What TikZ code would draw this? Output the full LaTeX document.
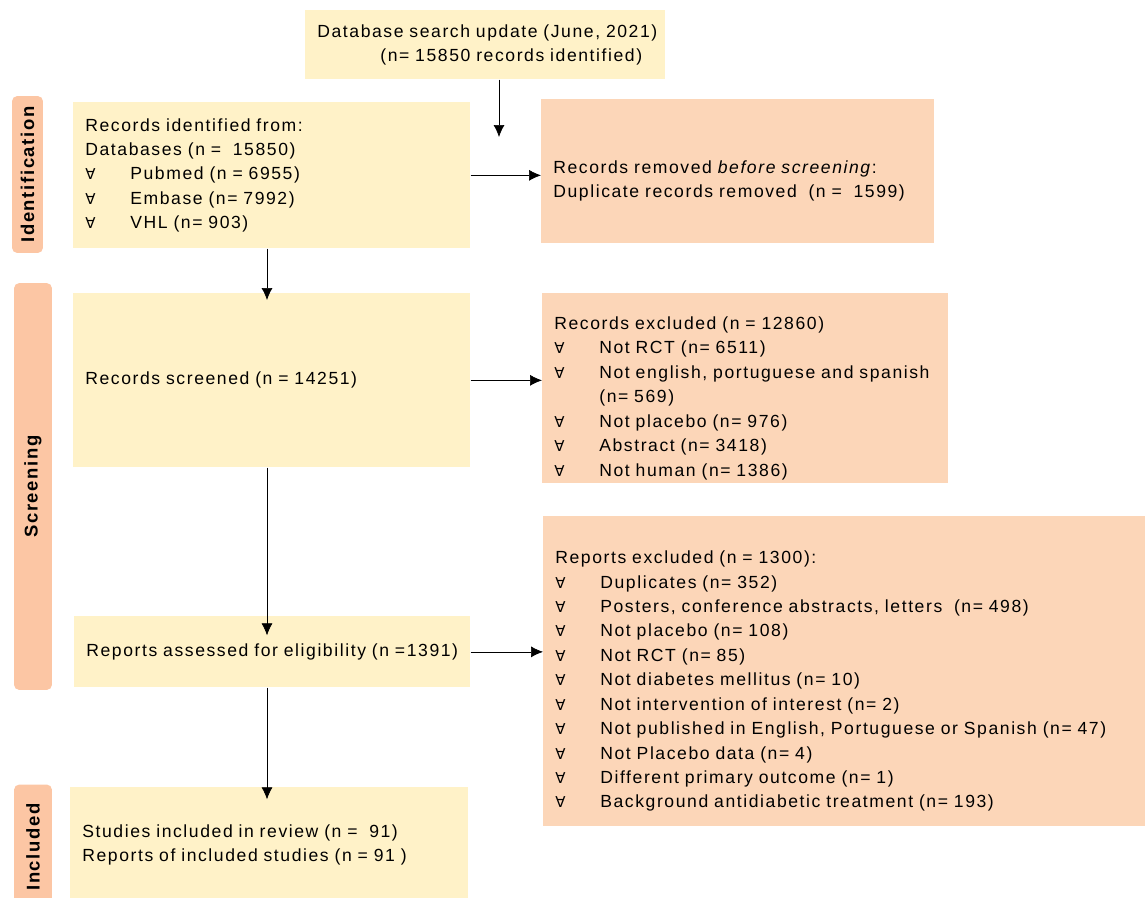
\documentclass[tikz,border=0pt]{standalone}
\usepackage{fontspec}
\setmainfont{Liberation Sans}[LetterSpace=9]
\newfontfamily\symfont{DejaVu Sans}
\usepackage{tikz}
\usetikzlibrary{positioning,arrows.meta}
\definecolor{boxyellow}{HTML}{FFF2C8}
\definecolor{boxpeach}{HTML}{FCD6B8}
\definecolor{phasepeach}{HTML}{FCC6A4}
\newcommand{\fa}{\makebox[0.9cm][l]{\symfont\fontsize{8.5}{10}\selectfont ∀}}
\newcommand{\pushdown}{\rule{0pt}{0.65cm}}
\tikzset{yellowbox/.style={fill=boxyellow, anchor=north west, align=left, inner xsep=0.24cm, inner ysep=0pt, font=\fontsize{10}{13.9}\selectfont},
peachbox/.style={yellowbox, fill=boxpeach, execute at begin node=\pushdown},
phasenode/.style={fill=phasepeach, rounded corners=3pt, rotate=90, inner sep=0pt, font=\fontsize{10.5}{12}\selectfont\bfseries},}

\begin{document}
\begin{tikzpicture}[x=0.02cm, y=-0.02cm, >={Latex[length=2.4mm,width=2.2mm]}]
\useasboundingbox (0,0) rectangle (1145,897);
\node [yellowbox, text width=6.72cm, minimum height=1.38cm] (top) at (305,10) {\mbox{Database search update (June, 2021)}\\ \hspace*{1.26cm}(n= 15850 records identified)};
\node [phasenode, minimum width=3.14cm, minimum height=0.62cm] (ident) at (27.5,174.5) {Identification};
\node [phasenode, minimum width=8.14cm, minimum height=0.76cm] (screen) at (33,486.5) {Screening};
\node [phasenode, minimum width=2.5cm, minimum height=0.76cm] (incl) at (33,847) {Included};
\node [yellowbox, text width=7.46cm, minimum height=2.92cm] (recid) at (73,102) {Records identified from:\\Databases (n = \ 15850)\\\fa Pubmed (n = 6955)\\\fa Embase (n= 7992)\\\fa VHL (n= 903)};
\node [peachbox, text width=7.38cm, minimum height=2.88cm] (removed) at (541,99) {Records removed \emph{before screening}:\\Duplicate records removed \ (n = \ 1599)};
\node [yellowbox, text width=7.46cm, minimum height=3.48cm] (screened) at (73,293) {Records screened (n = 14251)};
\node [peachbox, text width=7.64cm, minimum height=3.8cm] (recexcl) at (542,293) {Records excluded (n = 12860)\\\fa Not RCT (n= 6511)\\\fa Not english, portuguese and spanish\\\hspace*{0.9cm}(n= 569)\\\fa Not placebo (n= 976)\\\fa Abstract (n= 3418)\\\fa Not human (n= 1386)};
\node [yellowbox, text width=7.44cm, minimum height=1.42cm] (assessed) at (74,616) {Reports assessed for eligibility (n =1391)};
\node [peachbox, text width=11.6cm, minimum height=6.2cm] (repexcl) at (543,516) {Reports excluded (n = 1300):\\\fa Duplicates (n= 352)\\\fa Posters, conference abstracts, letters \ (n= 498)\\\fa Not placebo (n= 108)\\\fa Not RCT (n= 85)\\\fa Not diabetes mellitus (n= 10)\\\fa Not intervention of interest (n= 2)\\\fa Not published in English, Portuguese or Spanish (n= 47)\\\fa Not Placebo data (n= 4)\\\fa Different primary outcome (n= 1)\\\fa Background antidiabetic treatment (n= 193)};
\node [yellowbox, text width=7.48cm, minimum height=2.3cm] (included) at (70,787) {Studies included in review (n = \ 91)\\Reports of included studies (n = 91 )};
\coordinate (drop) at (499,137);
\coordinate (spine) at (267,0);
\draw[->] (top.south -| drop) -- (drop);
\draw[->] (recid.east) -- (recid.east -| removed.west);
\draw[->] (spine |- recid.south) -- ([yshift=-4]spine |- screened.north);
\draw[->] (screened.east) -- (screened.east -| recexcl.west);
\draw[->] (spine |- screened.south) -- ([yshift=-11]spine |- assessed.north);
\draw[->] (assessed.east) -- (assessed.east -| repexcl.west);
\draw[->] (spine |- assessed.south) -- ([yshift=-7]spine |- included.north);
\end{tikzpicture}
\end{document}
